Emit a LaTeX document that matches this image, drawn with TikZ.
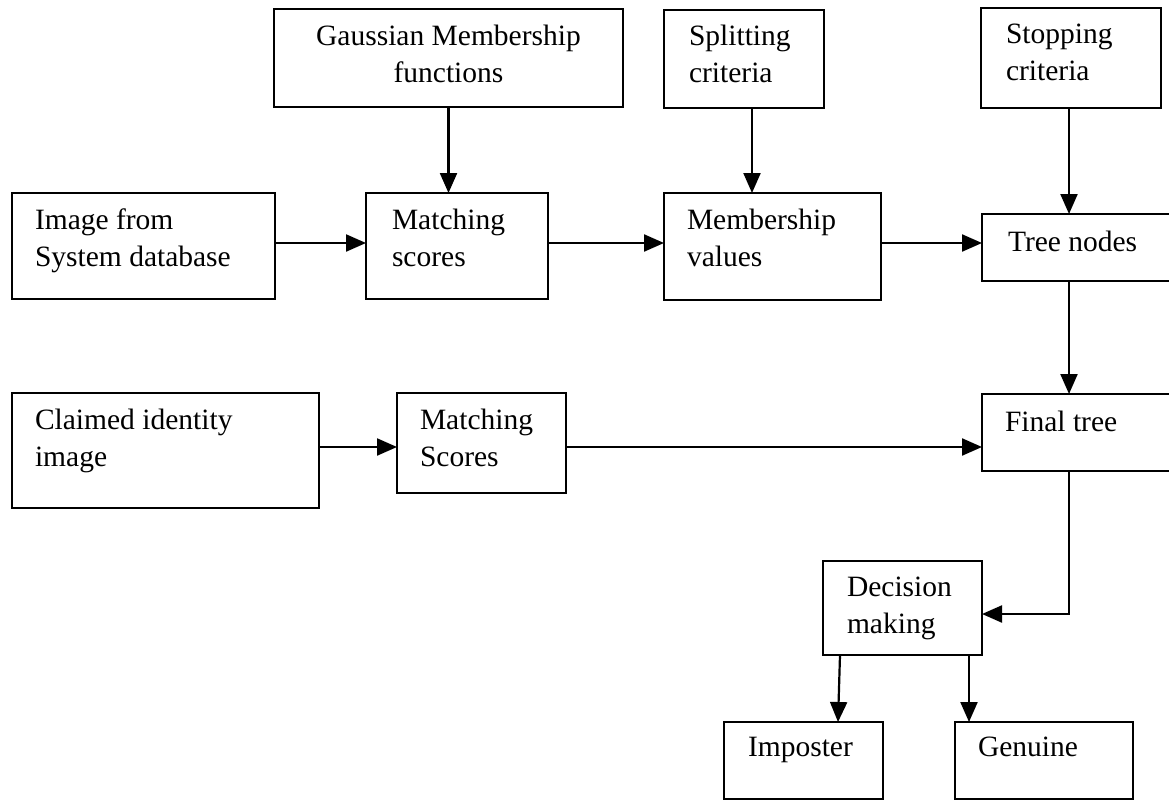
\documentclass[tikz,border=0pt]{standalone}
\usepackage{fontspec}
\setmainfont{Liberation Serif}
\usetikzlibrary{arrows.meta}
\newcommand\mybox[5]{\node[box, minimum width={#4-#2}, minimum height={#5-#3}] (#1) at (#2,#3) {};}
\begin{document}
\begin{tikzpicture}[x=1pt,y=-1pt,
  box/.style={draw=black, line width=2.2pt, inner sep=0pt, outer sep=0pt, anchor=north west},
  txt/.style={inner sep=0pt, outer sep=0pt, anchor=north west, align=left, font=\fontsize{29.5}{37}\selectfont},
  arr/.style={line width=2.2pt, -{Triangle[length=20pt,width=17pt]}},
]
\clip (0,0) rectangle (1169,800);
\fill[white] (0,0) rectangle (1169,800);
% boxes
\mybox{gauss}{274}{9}{623}{107}
\mybox{split}{664}{10}{824}{108}
\mybox{stop}{981}{8}{1161}{108}
\mybox{img}{12}{193}{275}{299}
\mybox{ms1}{366}{193}{548}{299}
\mybox{memb}{664}{193}{881}{300}
\mybox{tnodes}{982}{214}{1190}{281}
\mybox{claim}{12}{393}{319}{508}
\mybox{ms2}{397}{393}{566}{493}
\mybox{final}{982}{394}{1190}{471}
\mybox{dec}{823}{561}{982}{655}
\mybox{imp}{724}{722}{883}{799}
\mybox{gen}{955}{722}{1133}{799}
% texts
\node[txt, anchor=north, align=center] (gauss-t) at (448.5,25) {Gaussian Membership\\functions};
\node[txt] (split-t) at (689,25) {Splitting\\criteria};
\node[txt] (stop-t) at (1006,24) {Stopping\\criteria};
\node[txt] (img-t) at (35,209) {Image from\\System database};
\node[txt] (ms1-t) at (392,209) {Matching\\scores};
\node[txt] (memb-t) at (687,209) {Membership\\values};
\node[txt] (tnodes-t) at (1008,231) {Tree nodes};
\node[txt] (claim-t) at (35,409) {Claimed identity\\image};
\node[txt] (ms2-t) at (420,409) {Matching\\Scores};
\node[txt] (final-t) at (1005,411) {Final tree};
\node[txt] (dec-t) at (847,577) {Decision\\making};
\node[txt] (imp-t) at (748,737) {Imposter};
\node[txt] (gen-t) at (978,737) {Genuine};
% helper coordinates
\coordinate (colx) at (1069,0);
\coordinate (row1) at (0,243);
\coordinate (row2) at (0,447);
\coordinate (bend) at (1069,614);
\coordinate (c1) at (840,0);
\coordinate (c2) at (838,0);
\coordinate (c3) at (969,0);
\coordinate (sx) at (752,0);
% connectors
\draw[arr] (gauss.south) -- (gauss.south |- ms1.north);
\draw[arr] (split.south -| sx) -- (memb.north -| sx);
\draw[arr] (stop.south -| colx) -- (tnodes.north -| colx);
\draw[arr] (img.east |- row1) -- (ms1.west |- row1);
\draw[arr] (ms1.east |- row1) -- (memb.west |- row1);
\draw[arr] (memb.east |- row1) -- (tnodes.west |- row1);
\draw[arr] (tnodes.south -| colx) -- (final.north -| colx);
\draw[arr] (claim.east |- row2) -- (ms2.west |- row2);
\draw[arr] (ms2.east |- row2) -- (final.west |- row2);
\draw[arr] (final.south -| colx) -- (bend) -- (dec.east |- bend);
\draw[arr] (dec.south -| c1) -- (imp.north -| c2);
\draw[arr] (dec.south -| c3) -- (gen.north -| c3);
\end{tikzpicture}
\end{document}
